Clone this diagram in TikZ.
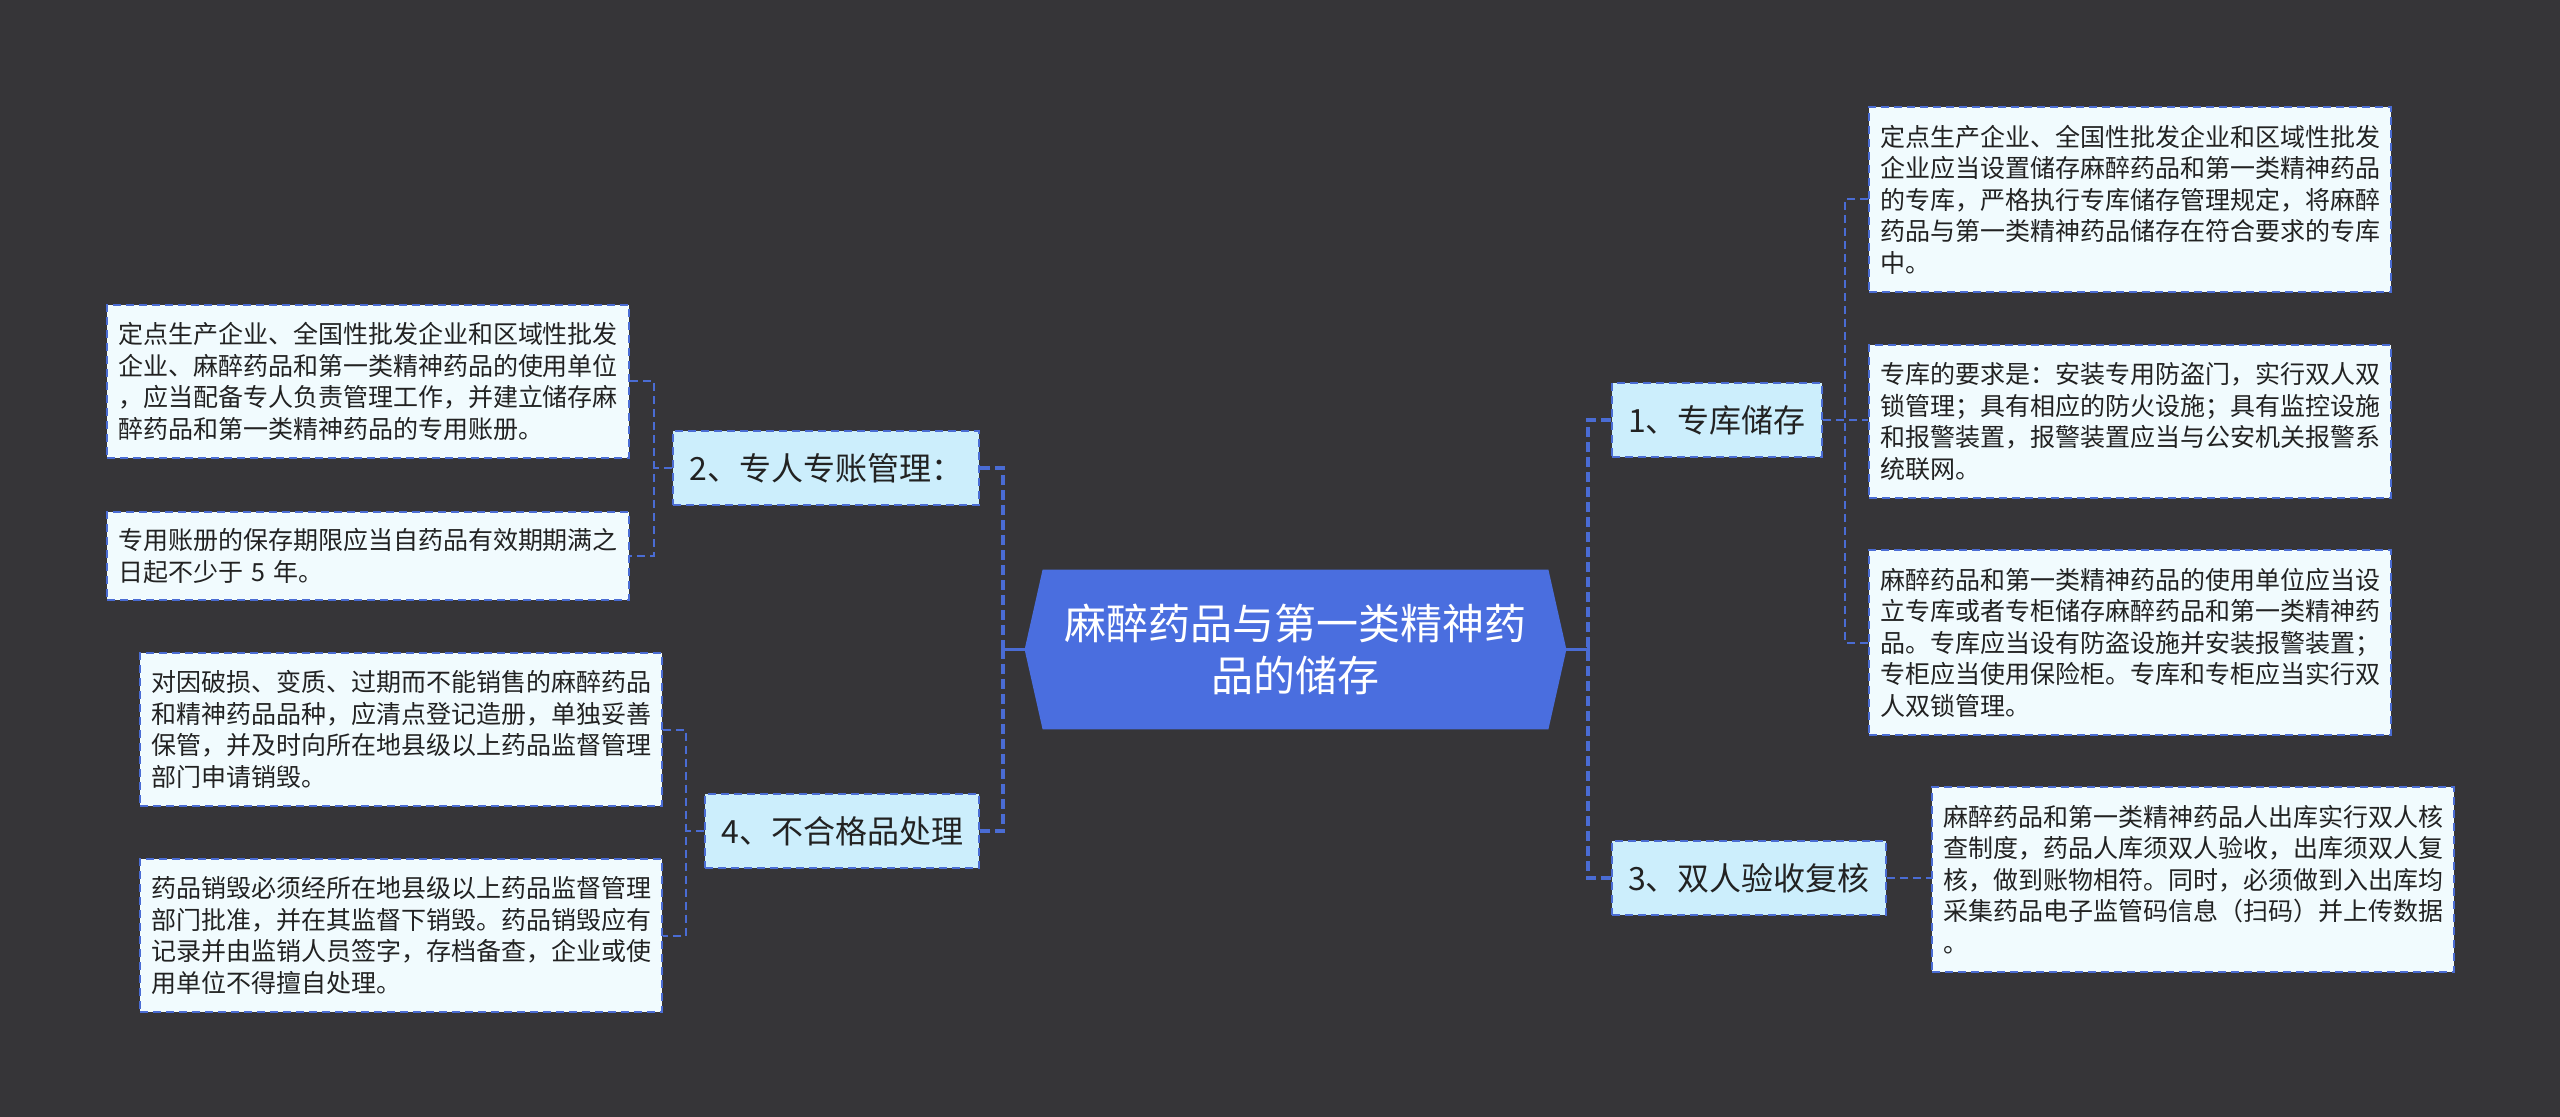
\documentclass[tikz,border=0pt]{standalone}
\usepackage{fontspec}
\newfontfamily\cjk{Noto Sans CJK SC}
\usetikzlibrary{calc,backgrounds}
\definecolor{bg}{HTML}{363538}
\definecolor{hexc}{HTML}{4A6EDF}
\definecolor{linec}{HTML}{4A6CD4}
\definecolor{branchfill}{HTML}{CCEEFC}
\definecolor{leaffill}{HTML}{F1FBFE}
\definecolor{txt}{HTML}{222222}
\begin{document}
\begin{tikzpicture}[x=0.5pt,y=-0.5pt,
 leafbox/.style={draw=linec, line width=1pt, dash pattern=on 4pt off 2.5pt, fill=leaffill, text=txt,
   font=\cjk\fontsize{12.5pt}{15.75pt}\selectfont, text width=250pt, align=left,
   inner xsep=5.5pt, inner ysep=0pt, anchor=north west},
 branchbox/.style={draw=linec, line width=1pt, dash pattern=on 4pt off 2.5pt, fill=branchfill, text=txt,
   font=\cjk\fontsize{16pt}{19pt}\selectfont, inner xsep=8pt, inner ysep=0pt, minimum height=37pt},
 centertext/.style={text=white, font=\cjk\fontsize{21pt}{26pt}\selectfont, align=center, inner sep=0pt},
 trunk/.style={draw=linec, line width=2pt, dash pattern=on 5pt off 2.5pt},
 trunksolid/.style={draw=linec, line width=1.6pt},
 leafline/.style={draw=linec, line width=1pt, dash pattern=on 4pt off 2.5pt},
]
\useasboundingbox (0,0) rectangle (2560,1117);

% centre
\node[minimum width=252.5pt, minimum height=79.5pt, inner sep=0pt] (c) at (1295.5,649.5) {};
\node[centertext] (ctext) at (c) {麻醉药品与第一类精神药\\品的储存};

% branches
\node[branchbox, anchor=west] (b1) at (1611,420) {1、专库储存};
\node[branchbox, anchor=west] (b3) at (1611,878) {3、双人验收复核};
\node[branchbox, anchor=east] (b2) at (980,468) {2、专人专账管理：};
\node[branchbox, anchor=east] (b4) at (980,831) {4、不合格品处理};

% leaves right
\node[leafbox, minimum height=92.5pt] (l1a) at (1868,106) {定点生产企业、全国性批发企业和区域性批发\\企业应当设置储存麻醉药品和第一类精神药品\\的专库，严格执行专库储存管理规定，将麻醉\\药品与第一类精神药品储存在符合要求的专库\\中。};
\node[leafbox, minimum height=76.5pt] (l1b) at (1868,344) {专库的要求是：安装专用防盗门，实行双人双\\锁管理；具有相应的防火设施；具有监控设施\\和报警装置，报警装置应当与公安机关报警系\\统联网。};
\node[leafbox, minimum height=92.5pt] (l1c) at (1868,549) {麻醉药品和第一类精神药品的使用单位应当设\\立专库或者专柜储存麻醉药品和第一类精神药\\品。专库应当设有防盗设施并安装报警装置；\\专柜应当使用保险柜。专库和专柜应当实行双\\人双锁管理。};
\node[leafbox, minimum height=92.5pt] (l3) at (1931,786) {麻醉药品和第一类精神药品人出库实行双人核\\查制度，药品人库须双人验收，出库须双人复\\核，做到账物相符。同时，必须做到入出库均\\采集药品电子监管码信息（扫码）并上传数据\\。};

% leaves left
\node[leafbox, minimum height=76.5pt] (l2a) at (106,304) {定点生产企业、全国性批发企业和区域性批发\\企业、麻醉药品和第一类精神药品的使用单位\\，应当配备专人负责管理工作，并建立储存麻\\醉药品和第一类精神药品的专用账册。};
\node[leafbox, minimum height=44pt] (l2b) at (106,511) {专用账册的保存期限应当自药品有效期期满之\\日起不少于 5 年。};
\node[leafbox, minimum height=76.5pt] (l4a) at (139,652) {对因破损、变质、过期而不能销售的麻醉药品\\和精神药品品种，应清点登记造册，单独妥善\\保管，并及时向所在地县级以上药品监督管理\\部门申请销毁。};
\node[leafbox, minimum height=76.5pt] (l4b) at (139,858) {药品销毁必须经所在地县级以上药品监督管理\\部门批准，并在其监督下销毁。药品销毁应有\\记录并由监销人员签字，存档备查，企业或使\\用单位不得擅自处理。};

\begin{scope}[on background layer]
\fill[bg] (0,0) rectangle (2560,1117);
\fill[hexc] (c.north west) -- (c.north east) -- ($(c.east)+(18,0)$) -- (c.south east)
  -- (c.south west) -- ($(c.west)+(-18,0)$) -- cycle;
\end{scope}

% main trunks
\coordinate (tl) at ($(c.west)+(-40,0)$);
\coordinate (tr) at ($(c.east)+(40,0)$);
\draw[trunk] (b2.east) -| (tl);
\draw[trunk] (b4.east) -| (tl);
\draw[trunk] (b1.west) -| (tr);
\draw[trunk] (b3.west) -| (tr);
\draw[trunksolid] ($(c.west)+(-18,0)$) -- (tl);
\draw[trunksolid] ($(tl)+(0,-9)$) -- ($(tl)+(0,9)$);
\draw[trunksolid] ($(c.east)+(18,0)$) -- (tr);
\draw[trunksolid] ($(tr)+(0,-9)$) -- ($(tr)+(0,9)$);

% leaf connectors
\draw[leafline] (l2a.east) -- ++(24,0) coordinate (j2) |- (l2b.east);
\draw[leafline] (b2.west) -- (b2.west -| j2);
\draw[leafline] (l4a.east) -- ++(23,0) coordinate (j4) |- (l4b.east);
\draw[leafline] (b4.west) -- (b4.west -| j4);
\draw[leafline] (l1a.west) -- ++(-23,0) coordinate (j1) |- (l1c.west);
\draw[leafline] (b1.east) -- (b1.east -| l1b.west);
\draw[leafline] (b3.east) -- (b3.east -| l3.west);
\end{tikzpicture}
\end{document}
